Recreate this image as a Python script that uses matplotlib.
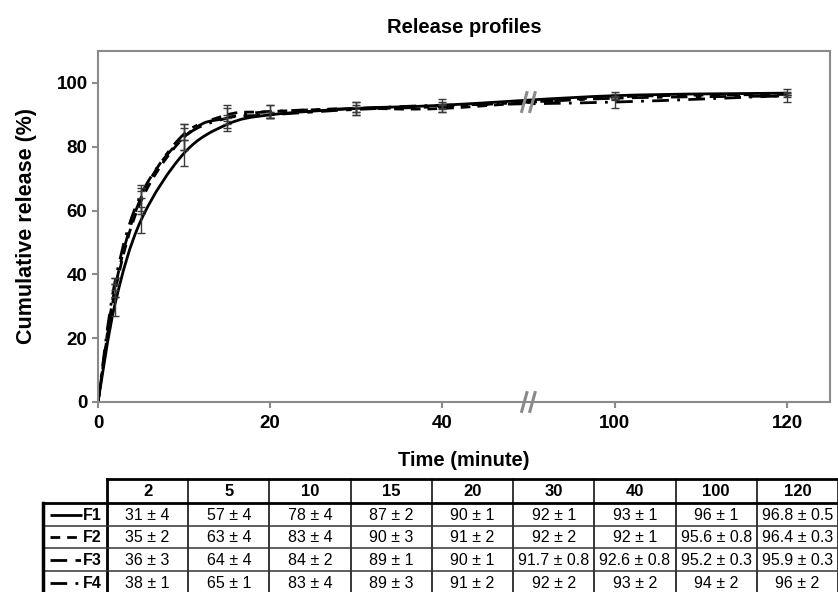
import numpy as np
import matplotlib
matplotlib.use('Agg')
import matplotlib.pyplot as plt
from matplotlib.path import Path
from matplotlib.patches import PathPatch

times = [2, 5, 10, 15, 20, 30, 40, 100, 120]
formulations = ['F1', 'F2', 'F3', 'F4']
f1_mean = [31, 57, 78, 87, 90, 92, 93, 96, 96.8]
f1_sd = [4, 4, 4, 2, 1, 1, 1, 1, 0.5]
f2_mean = [35, 63, 83, 90, 91, 92, 92, 95.6, 96.4]
f2_sd = [2, 4, 4, 3, 2, 2, 1, 0.8, 0.3]
f3_mean = [36, 64, 84, 89, 90, 91.7, 92.6, 95.2, 95.9]
f3_sd = [3, 4, 2, 1, 1, 0.8, 0.8, 0.3, 0.3]
f4_mean = [38, 65, 83, 89, 91, 92, 93, 94, 96]
f4_sd = [1, 1, 4, 3, 2, 2, 2, 2, 2]
x_tick_labels = ['0', '20', '40', '100', '120']

means = [f1_mean, f2_mean, f3_mean, f4_mean]
sds = [f1_sd, f2_sd, f3_sd, f4_sd]
dashes = [None, (3.5, 2.5), (6, 3, 2, 3), (6, 3, 1, 3)]

BREAK_AT = 50
BREAK_GAP = 40

AX_FONT = ['Liberation Sans', 'DejaVu Sans']
GREY = '#8a8a8a'


def to_display(t):
    # broken axis: everything after the break is shifted left
    return t if t <= BREAK_AT else t - BREAK_GAP


def smooth_path(xs, ys):
    """Excel-like smoothed line as a chain of cubic Bezier segments."""
    pts = np.column_stack([xs, ys]).astype(float)
    n = len(pts)
    verts = [pts[0]]
    codes = [Path.MOVETO]
    for i in range(n - 1):
        p0 = pts[i - 1] if i > 0 else pts[i]
        p1, p2 = pts[i], pts[i + 1]
        p3 = pts[i + 2] if i + 2 < n else pts[i + 1]
        verts += [p1 + (p2 - p0) / 6, p2 - (p3 - p1) / 6, p2]
        codes += [Path.CURVE4] * 3
    return Path(verts, codes)


plt.rcParams['font.family'] = AX_FONT
fig = plt.figure(figsize=(8.38, 5.92), dpi=100)
ax = fig.add_axes([98 / 838, 1 - 402 / 592, (830 - 98) / 838, (402 - 51) / 592])

xd = [to_display(t) for t in times]
for m, s, d in zip(means, sds, dashes):
    path = smooth_path([0] + xd, [0] + m)
    patch = PathPatch(path, fill=False, edgecolor='black', lw=2.0,
                      capstyle='butt')
    if d is not None:
        patch.set_linestyle((0, d))
    ax.add_patch(patch)
    ax.errorbar(xd, m, yerr=s, fmt='none', ecolor='#3a3a3a',
                elinewidth=1.0, capsize=3, capthick=1.0)

ax.set_xlim(0, 85)
ax.set_ylim(0, 110)
ax.set_xticks([0, 20, 40, 60, 80])
ax.set_xticklabels(x_tick_labels)
ax.set_yticks([0, 20, 40, 60, 80, 100])
for sp in ax.spines.values():
    sp.set_color(GREY)
    sp.set_linewidth(1.5)
ax.tick_params(axis='both', colors=GREY, length=4, width=1.5,
               labelsize=13.5, labelcolor='black')
for lab in ax.get_xticklabels() + ax.get_yticklabels():
    lab.set_fontweight('bold')
ax.tick_params(axis='x', pad=5)
ax.set_xlabel('Time (minute)', fontsize=14.5, fontweight='bold', labelpad=14)
ax.set_ylabel('Cumulative release (%)', fontsize=15.5, fontweight='bold',
              labelpad=14)
ax.set_title('Release profiles', fontsize=14.5, fontweight='bold', pad=13)

# break marks "//" on the axis and on the curves
for yb, h in [(0, 3.4), (94, 3.4)]:
    for off in (-0.5, 0.45):
        xb = BREAK_AT + off
        ax.plot([xb - 0.35, xb + 0.35], [yb - h, yb + h], color=GREY,
                lw=2.2, clip_on=False, zorder=5, solid_capstyle='butt')

# ---- table under the chart, laid out in pixel units ----
tab = fig.add_axes([0, 0, 1, 1])
tab.set_xlim(0, 838)
tab.set_ylim(592, 0)
tab.axis('off')

col_left = 107
col_right = 838
n_col = len(times)
cw = (col_right - col_left) / n_col
head_top, head_bot = 479, 503
row_edges = [503, 526, 548, 571, 594]
leg_left = 43

# header row
tab.plot([col_left, col_right], [head_top, head_top], color='black', lw=2)
for j, t in enumerate(times):
    xc = col_left + (j + 0.5) * cw
    tab.text(xc, (head_top + head_bot) / 2 + 1, str(t), ha='center',
             va='center', fontsize=12, fontweight='bold')
# column separators
for j in range(n_col + 1):
    xx = col_left + j * cw
    tab.plot([xx, xx], [head_top, 594], color='black',
             lw=2 if j == 0 else 1.1)
# row separators
tab.plot([leg_left, col_right], [head_bot, head_bot], color='black', lw=2)
for yy in row_edges[1:-1]:
    tab.plot([leg_left, col_right], [yy, yy], color='#333333', lw=1.1)
tab.plot([leg_left, leg_left], [head_bot, 594], color='black', lw=2.5)

# legend cells and values
for i, (name, m, s, d) in enumerate(zip(formulations, means, sds, dashes)):
    yc = (row_edges[i] + row_edges[i + 1]) / 2
    ln, = tab.plot([50, 82], [yc, yc], color='black', lw=2, solid_capstyle='butt')
    if d is not None:
        ln.set_dashes(d)
    tab.text(102, yc + 1, name, ha='right', va='center', fontsize=11.5,
             fontweight='bold')
    for j, (mv, sv) in enumerate(zip(m, s)):
        xc = col_left + (j + 0.5) * cw
        tab.text(xc, yc + 1, f'{mv:g} \u00b1 {sv:g}', ha='center',
                 va='center', fontsize=11.5)

fig.savefig('out.png', dpi=100)
